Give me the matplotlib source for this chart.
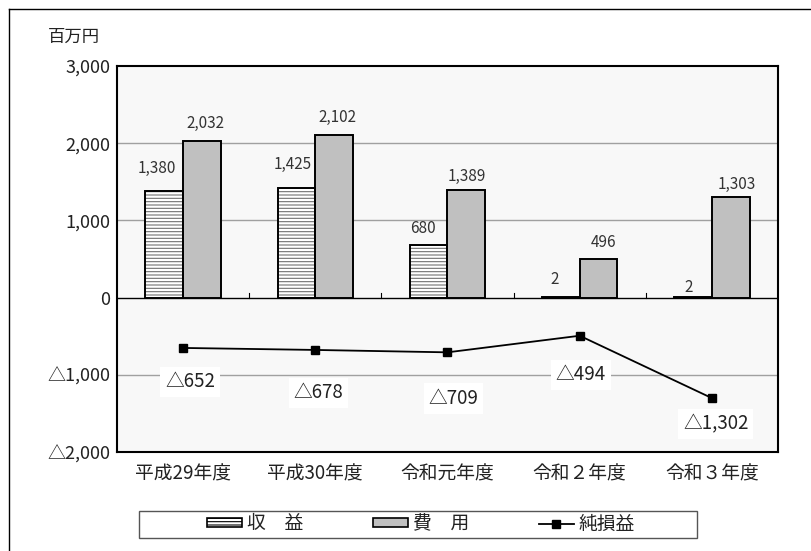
import numpy as np
import matplotlib
matplotlib.use("Agg")
import matplotlib.pyplot as plt
from matplotlib.lines import Line2D
from matplotlib.patches import Patch, Rectangle

plt.rcParams['font.family'] = ['Noto Sans CJK JP', 'DejaVu Sans']
plt.rcParams['hatch.color'] = '#707070'
plt.rcParams['hatch.linewidth'] = 0.8

years = ['平成29年度', '平成30年度', '令和元年度', '令和２年度', '令和３年度']
income = [1380, 1425, 680, 2, 2]
expense = [2032, 2102, 1389, 496, 1303]
net = [-652, -678, -709, -494, -1302]
yticks = [-2000, -1000, 0, 1000, 2000, 3000]
ytick_labels = ['△2,000', '△1,000', '0', '1,000', '2,000', '3,000']

# label offsets in pixels (dx, dy)
inc_off = [(-7, 23), (-4, 23), (-6, 17), (-6, 18), (-4, 10)]
exp_off = [(3, 17), (3, 18), (0, 14), (5, 17), (6, 13)]
net_off = [(7, -34), (3, -43), (6, -46), (1, -39), (4, -26)]

def fmt(v):
    return f'△{abs(v):,}' if v < 0 else f'{v:,}'

W, H = 812, 551
fig = plt.figure(figsize=(W / 100, H / 100), dpi=100)
ax = fig.add_axes([117 / W, 1 - 452 / H, (778 - 117) / W, (452 - 66) / H])
ax.set_facecolor('#f8f8f8')

x = np.arange(len(years))
bw = 0.285
ax.bar(x - bw / 2, income, bw, color='white', hatch='-----', edgecolor='#707070',
       linewidth=0, zorder=3)
ax.bar(x - bw / 2, income, bw, fill=False, edgecolor='black', linewidth=1.4, zorder=4)
ax.bar(x + bw / 2, expense, bw, color='#c0c0c0', edgecolor='black', linewidth=1.4, zorder=3)

for xi, v, off in zip(x, income, inc_off):
    ax.annotate(fmt(v), (xi - bw / 2, v), xytext=off, textcoords='offset pixels',
                ha='center', va='center', fontsize=11, color='#333333')
for xi, v, off in zip(x, expense, exp_off):
    ax.annotate(fmt(v), (xi + bw / 2, v), xytext=off, textcoords='offset pixels',
                ha='center', va='center', fontsize=11, color='#333333')

ax.plot(x, net, color='black', linewidth=1.3, marker='s', markersize=6, zorder=5)
for xi, v, off in zip(x, net, net_off):
    ax.annotate(fmt(v), (xi, v), xytext=off, textcoords='offset pixels',
                ha='center', va='center', fontsize=13.5, color='#222222', zorder=6,
                bbox=dict(boxstyle='square,pad=0.25', facecolor='white', edgecolor='none'))

ax.set_xlim(-0.5, len(years) - 0.5)
ax.set_ylim(-2000, 3000)
ax.set_yticks(yticks)
ax.set_yticklabels(ytick_labels, fontsize=13, color='#222222')
for g in [-1000, 1000, 2000]:
    ax.axhline(g, color='#a0a0a0', linewidth=1, zorder=1)
ax.axhline(0, color='black', linewidth=1, zorder=2)
# small tick marks on the zero line between categories
for b in np.arange(0.5, len(years) - 1, 1.0):
    ax.plot([b, b], [0, 60], color='black', linewidth=0.8, zorder=2)

ax.set_xticks(x)
ax.set_xticklabels(years, fontsize=13.5, color='#222222')
ax.tick_params(axis='x', length=0, pad=8)
ax.tick_params(axis='y', length=0, pad=5)
for s in ax.spines.values():
    s.set_linewidth(1.5)
    s.set_color('black')

fig.text(74 / W, 1 - 37 / H, '百万円', fontsize=12.5, ha='center', va='center', color='#222222')

handles = [
    Patch(facecolor='white', edgecolor='black', hatch='-----', linewidth=1.2),
    Patch(facecolor='#c0c0c0', edgecolor='black', linewidth=1.2),
    Line2D([0], [0], color='black', marker='s', markersize=6, linewidth=1.3),
]
leg = fig.legend(handles, ['収　益', '費　用', '純損益'], loc='center',
                 bbox_to_anchor=(421 / W, 1 - 524 / H), ncol=3, fontsize=13.5,
                 frameon=False, handlelength=1.87, handleheight=0.37,
                 columnspacing=3.7, borderpad=0.1, handletextpad=0.27)
for t in leg.get_texts():
    t.set_color('#222222')
fig.add_artist(Rectangle((139 / W, 1 - 538 / H), (697 - 139) / W, 27 / H,
                         transform=fig.transFigure, fill=False,
                         edgecolor='#555555', linewidth=1))

# outer frame (top and left edges)
fig.add_artist(Line2D([9 / W, 1], [1 - 9 / H, 1 - 9 / H], color='black', linewidth=1))
fig.add_artist(Line2D([9 / W, 9 / W], [0, 1 - 9 / H], color='black', linewidth=1))

fig.savefig('out.png', dpi=100)
